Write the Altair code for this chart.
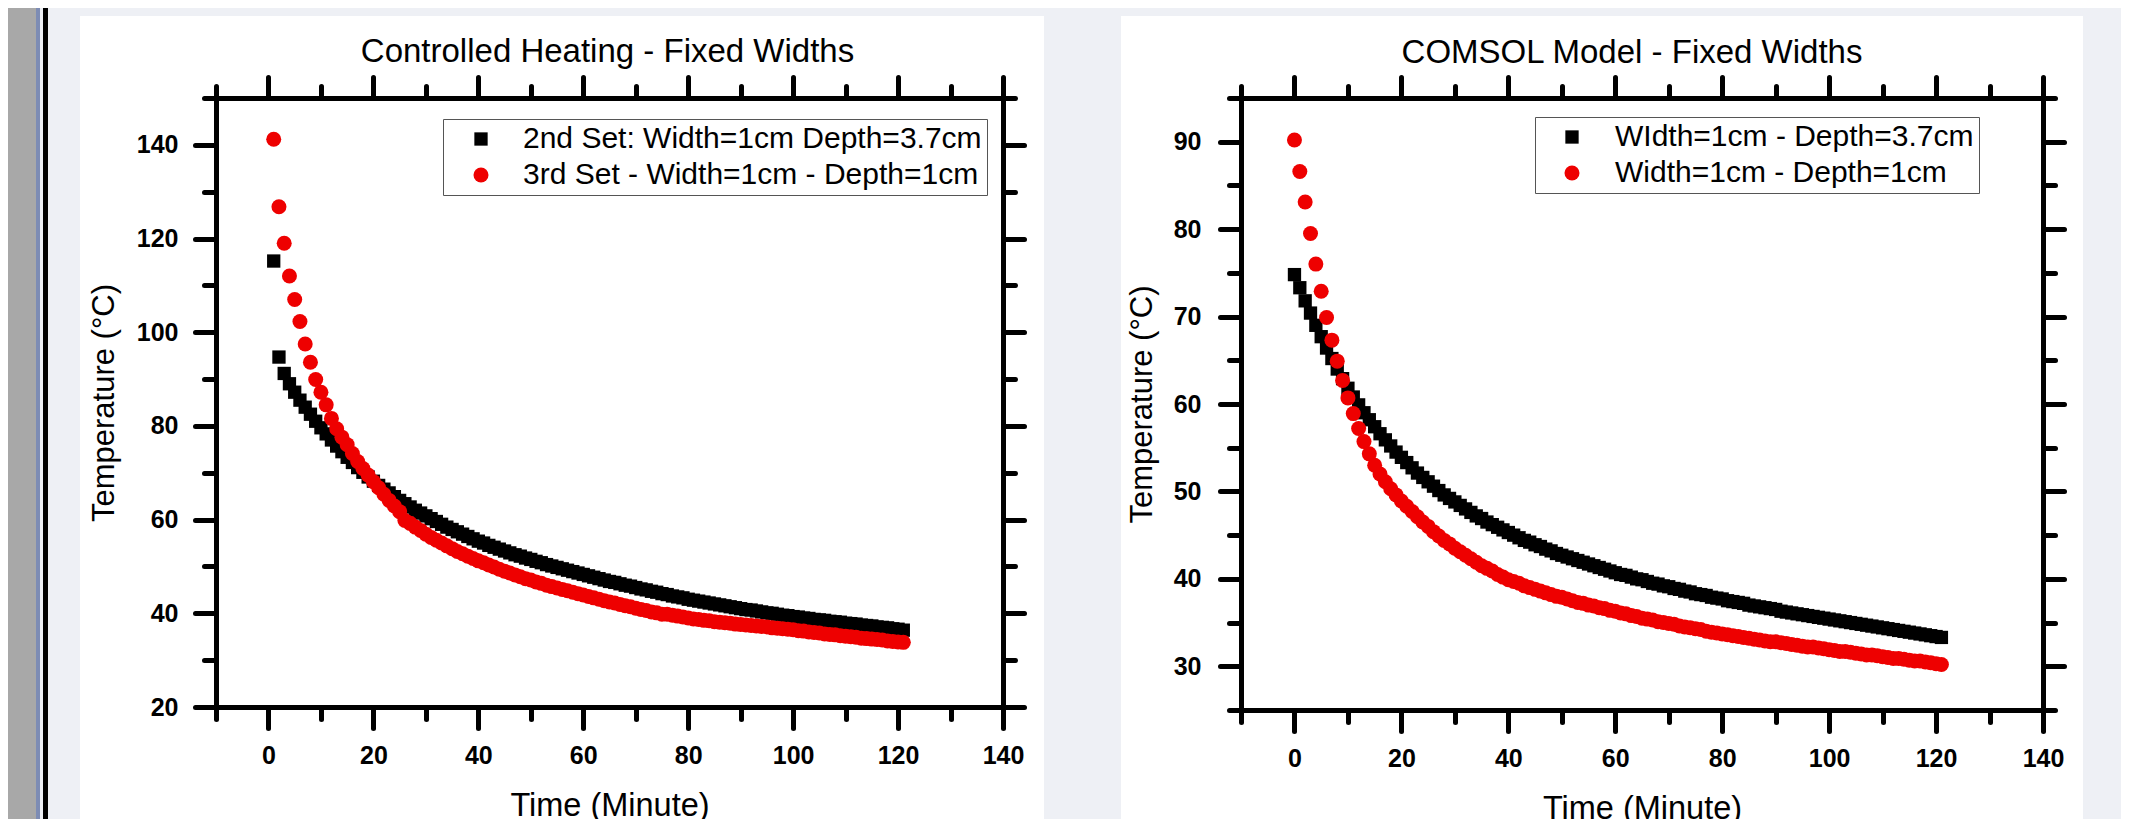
import altair as alt
import pandas as pd

# ---------------- data ----------------
ch_time = list(range(1, 122))
ch_black = [115.2, 94.7, 91.2, 89.0, 87.2, 85.5, 84.0, 82.5, 81.0, 79.6,
            78.3, 77.0, 75.7, 74.5, 73.3, 72.2, 71.1, 70.1, 69.1, 68.2,
            67.3, 66.5, 65.7, 64.9, 64.1, 63.4, 62.7, 62.0, 61.4, 60.8,
            60.2, 59.6, 59.0, 58.4, 57.9, 57.4, 56.9, 56.4, 55.9, 55.4,
            55.0, 54.5, 54.1, 53.7, 53.3, 52.9, 52.5, 52.2, 51.8, 51.5,
            51.1, 50.8, 50.4, 50.1, 49.8, 49.5, 49.2, 48.9, 48.6, 48.3,
            48.0, 47.7, 47.4, 47.1, 46.8, 46.6, 46.3, 46.0, 45.8, 45.5,
            45.2, 45.0, 44.7, 44.5, 44.2, 44.0, 43.7, 43.5, 43.3, 43.0,
            42.8, 42.6, 42.4, 42.2, 42.0, 41.8, 41.6, 41.4, 41.2, 41.0,
            40.8, 40.7, 40.5, 40.3, 40.1, 40.0, 39.8, 39.6, 39.5, 39.3,
            39.2, 39.0, 38.9, 38.7, 38.6, 38.5, 38.3, 38.2, 38.1, 37.9,
            37.8, 37.7, 37.5, 37.4, 37.3, 37.1, 37.0, 36.9, 36.7, 36.6,
            36.4]
ch_red = [141.2, 126.8, 119.0, 112.0, 107.0, 102.3, 97.5, 93.6, 89.9, 87.2,
          84.5, 81.6, 79.4, 77.6, 76.0, 74.1, 72.4, 70.9, 69.5, 68.1,
          66.8, 65.4, 64.1, 62.9, 61.7, 59.8, 59.2, 58.4, 57.7, 56.9,
          56.2, 55.6, 55.0, 54.4, 53.8, 53.2, 52.7, 52.2, 51.7, 51.2,
          50.8, 50.3, 49.9, 49.4, 49.0, 48.6, 48.2, 47.8, 47.4, 47.1,
          46.7, 46.4, 46.0, 45.7, 45.4, 45.1, 44.8, 44.5, 44.2, 43.9,
          43.6, 43.3, 43.0, 42.7, 42.4, 42.2, 41.9, 41.6, 41.4, 41.1,
          40.8, 40.6, 40.3, 40.1, 39.8, 39.8, 39.6, 39.4, 39.2, 39.0,
          38.8, 38.7, 38.5, 38.4, 38.2, 38.1, 38.0, 37.9, 37.7, 37.6,
          37.5, 37.4, 37.3, 37.2, 37.1, 36.9, 36.8, 36.7, 36.6, 36.5,
          36.3, 36.2, 36.0, 35.9, 35.8, 35.6, 35.5, 35.4, 35.2, 35.1,
          35.0, 34.9, 34.7, 34.6, 34.5, 34.4, 34.3, 34.1, 34.0, 33.9,
          33.8]

cm_time = list(range(0, 122))
cm_black = [74.8, 73.3, 71.8, 70.4, 69.0, 67.7, 66.4, 65.2, 64.0, 62.9,
            61.8, 60.8, 59.9, 59.0, 58.2, 57.4, 56.6, 55.9, 55.2, 54.5,
            53.9, 53.3, 52.7, 52.1, 51.6, 51.1, 50.6, 50.1, 49.6, 49.2,
            48.8, 48.4, 48.0, 47.6, 47.2, 46.9, 46.5, 46.2, 45.9, 45.6,
            45.3, 45.0, 44.7, 44.4, 44.2, 43.9, 43.7, 43.4, 43.2, 42.9,
            42.7, 42.5, 42.3, 42.1, 41.9, 41.7, 41.5, 41.3, 41.1, 40.9,
            40.7, 40.5, 40.4, 40.2, 40.0, 39.9, 39.7, 39.5, 39.4, 39.2,
            39.1, 38.9, 38.8, 38.6, 38.5, 38.3, 38.2, 38.1, 37.9, 37.8,
            37.7, 37.5, 37.4, 37.3, 37.2, 37.0, 36.9, 36.8, 36.7, 36.6,
            36.5, 36.3, 36.2, 36.1, 36.0, 35.9, 35.8, 35.7, 35.6, 35.5,
            35.4, 35.3, 35.2, 35.1, 35.0, 34.9, 34.8, 34.7, 34.6, 34.5,
            34.4, 34.3, 34.2, 34.1, 34.0, 33.9, 33.8, 33.7, 33.6, 33.5,
            33.4, 33.3]
cm_red = [90.2, 86.6, 83.1, 79.5, 76.0, 72.9, 69.9, 67.3, 64.9, 62.7,
          60.7, 58.9, 57.2, 55.7, 54.3, 53.0, 52.0, 51.1, 50.3, 49.6,
          48.9, 48.3, 47.7, 47.1, 46.5, 46.0, 45.4, 44.9, 44.4, 44.0,
          43.5, 43.1, 42.7, 42.3, 41.9, 41.5, 41.2, 40.9, 40.5, 40.2,
          39.9, 39.7, 39.5, 39.2, 39.0, 38.8, 38.6, 38.4, 38.2, 38.0,
          37.9, 37.7, 37.5, 37.3, 37.2, 37.0, 36.9, 36.7, 36.6, 36.4,
          36.3, 36.1, 36.0, 35.8, 35.7, 35.5, 35.4, 35.3, 35.1, 35.0,
          34.9, 34.8, 34.6, 34.5, 34.4, 34.3, 34.2, 34.0, 33.9, 33.8,
          33.7, 33.6, 33.5, 33.4, 33.3, 33.2, 33.1, 33.0, 32.9, 32.8,
          32.8, 32.7, 32.6, 32.5, 32.4, 32.3, 32.2, 32.2, 32.1, 32.0,
          31.9, 31.8, 31.7, 31.7, 31.6, 31.5, 31.4, 31.3, 31.3, 31.2,
          31.1, 31.0, 30.9, 30.9, 30.8, 30.7, 30.6, 30.6, 30.5, 30.4,
          30.3, 30.2]

ch_labels = ["2nd Set: Width=1cm Depth=3.7cm", "3rd Set - Width=1cm - Depth=1cm"]
cm_labels = ["WIdth=1cm - Depth=3.7cm", "Width=1cm - Depth=1cm"]
ch_title = "Controlled Heating - Fixed Widths"
cm_title = "COMSOL Model - Fixed Widths"
x_title = "Time (Minute)"
y_title = "Temperature (°C)"

x_domain = [-10, 140]
x_major = [0, 20, 40, 60, 80, 100, 120, 140]
x_minor = [-10, 10, 30, 50, 70, 90, 110, 130]
ch_y_domain = [20, 150]
ch_y_major = [20, 40, 60, 80, 100, 120, 140]
ch_y_minor = [30, 50, 70, 90, 110, 130, 150]
cm_y_domain = [25, 95]
cm_y_major = [30, 40, 50, 60, 70, 80, 90]
cm_y_minor = [25, 35, 45, 55, 65, 75, 85, 95]

# ---------------- styling ----------------
FONT = "Liberation Sans"
BG = "#eef0f5"
COLORS = ["#000000", "#ee0000"]
SHAPES = ["square", "circle"]
SIZES = [177, 225]
W1, H1 = 787, 609
W2, H2 = 802, 612

one_row = pd.DataFrame({"k": [0]})


def deco(x1, x2, y1, y2, color):
    return alt.Chart(one_row).mark_rect(color=color).encode(
        x=alt.value(x1), x2=alt.value(x2), y=alt.value(y1), y2=alt.value(y2))


AX = dict(domainColor="black", domainWidth=5, domainCap="square",
          tickColor="black", tickWidth=5, tickCap="round", grid=False, zindex=2)


def panel(times, blacks, reds, labels, field, ydom, ymaj, ymin, W, H,
          title, title_x, title_y, ytitle_x, ylab_pad, leg_x, leg_y,
          sym_off, lab_off, decos):
    df = pd.DataFrame({
        "time": list(times) + list(times),
        "temp": list(blacks) + list(reds),
        field: [labels[0]] * len(times) + [labels[1]] * len(times),
    })
    xs = alt.Scale(domain=x_domain, nice=False, zero=False)
    ys = alt.Scale(domain=ydom, nice=False, zero=False)
    leg = alt.Legend(orient="none", legendX=leg_x, legendY=leg_y, title=None,
                     padding=5, rowPadding=6, symbolOffset=sym_off, labelOffset=lab_off,
                     labelFont=FONT, labelFontSize=30, labelColor="black", labelLimit=0,
                     symbolSize=185, symbolStrokeWidth=0,
                     strokeColor="#555555", fillColor="white")
    pts = alt.Chart(df).mark_point(filled=True, opacity=1).encode(
        x=alt.X("time:Q", scale=xs, axis=alt.Axis(
            orient="bottom", values=x_major, tickSize=21, labelFont=FONT, labelFontSize=25,
            labelFontWeight="bold", labelColor="black", labelPadding=15, labelFlush=False,
            labelOverlap=False, format="d", title=x_title, titleFont=FONT, titleFontSize=32.5,
            titleFontWeight="normal", titleColor="black", titleY=108,
            titleBaseline="alphabetic", **AX)),
        y=alt.Y("temp:Q", scale=ys, axis=alt.Axis(
            orient="left", values=ymaj, tickSize=21, labelFont=FONT, labelFontSize=25,
            labelFontWeight="bold", labelColor="black", labelPadding=ylab_pad, labelFlush=False,
            labelOverlap=False, format="d", title=y_title, titleFont=FONT, titleFontSize=31,
            titleFontWeight="normal", titleColor="black", titleX=ytitle_x,
            titleBaseline="alphabetic", **AX)),
        color=alt.Color(field + ":N", scale=alt.Scale(domain=labels, range=COLORS), legend=leg),
        shape=alt.Shape(field + ":N", scale=alt.Scale(domain=labels, range=SHAPES), legend=leg),
        size=alt.Size(field + ":N", scale=alt.Scale(domain=labels, range=SIZES), legend=None),
    )
    inv = alt.Chart(df.iloc[:1]).mark_point(opacity=0)
    tr_major = inv.encode(
        x=alt.X("time:Q", scale=xs, axis=alt.Axis(orient="top", values=x_major, tickSize=21,
                                                  labels=False, title=None, **AX)),
        y=alt.Y("temp:Q", scale=ys, axis=alt.Axis(orient="right", values=ymaj, tickSize=21,
                                                  labels=False, title=None, **AX)))
    bl_minor = inv.encode(
        x=alt.X("time:Q", scale=xs, axis=alt.Axis(orient="bottom", values=x_minor, tickSize=12,
                                                  labels=False, title=None, domain=False, **AX)),
        y=alt.Y("temp:Q", scale=ys, axis=alt.Axis(orient="left", values=ymin, tickSize=12,
                                                  labels=False, title=None, domain=False, **AX)))
    tr_minor = inv.encode(
        x=alt.X("time:Q", scale=xs, axis=alt.Axis(orient="top", values=x_minor, tickSize=12,
                                                  labels=False, title=None, domain=False, **AX)),
        y=alt.Y("temp:Q", scale=ys, axis=alt.Axis(orient="right", values=ymin, tickSize=12,
                                                  labels=False, title=None, domain=False, **AX)))
    ttl = alt.Chart(one_row).mark_text(
        text=title, font=FONT, fontSize=33, color="black", align="center",
        baseline="alphabetic").encode(x=alt.value(title_x), y=alt.value(title_y))
    layers = decos + [ttl, pts, tr_major, bl_minor, tr_minor]
    return alt.layer(*layers).resolve_axis(x="independent", y="independent").properties(
        width=W, height=H)


left_decos = [
    deco(-208, -180, -90, 730, "#a8a8a8"),
    deco(-180, -176, -90, 730, "#7d8cb4"),
    deco(-173, -168, -90, 730, "#000000"),
    deco(-136, 828, -82, 730, "#ffffff"),
]
right_decos = [
    deco(-120, 842, -82, 730, "#ffffff"),
    deco(842, 880, -82, 730, BG),
]

left = panel(ch_time, ch_black, ch_red, ch_labels, "series_a", ch_y_domain, ch_y_major,
             ch_y_minor, W1, H1, ch_title, W1 / 2 - 2, -36, -103, 17, 227, 21, 18, 27,
             left_decos)
right = panel(cm_time, cm_black, cm_red, cm_labels, "series_b", cm_y_domain, cm_y_major,
              cm_y_minor, W2, H2, cm_title, W2 / 2 - 10, -35, -90, 19, 294, 19, 17, 28,
              right_decos)

chart = alt.hconcat(left, right, spacing=238, bounds="flush").resolve_scale(
    color="independent", shape="independent", size="independent"
).properties(padding=0, background=BG).configure_view(stroke=None)

chart.save("out.html", embed_options={"renderer": "svg", "actions": False})
